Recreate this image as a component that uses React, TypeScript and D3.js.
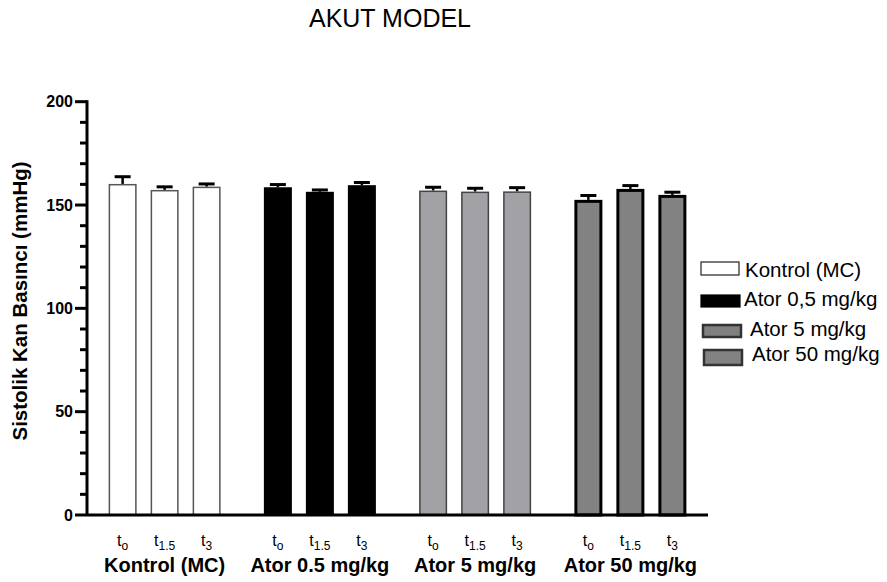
import React from "react";
import * as d3 from "d3";

const groups = ["Kontrol (MC)", "Ator 0.5 mg/kg", "Ator 5 mg/kg", "Ator 50 mg/kg"];
const legendLabels = ["Kontrol (MC)", "Ator 0,5 mg/kg", "Ator 5 mg/kg", "Ator 50 mg/kg"];
const times = ["o", "1.5", "3"];
const means = [
  [160.2, 157.3, 158.9],
  [158.6, 156.4, 159.6],
  [157.0, 156.5, 156.6],
  [152.5, 157.8, 154.9],
];
const errors = [
  [3.5, 1.5, 1.3],
  [1.3, 0.9, 1.3],
  [1.6, 1.6, 1.8],
  [2.1, 1.6, 1.3],
];
const yTicks = [0, 50, 100, 150, 200];

const styles = [
  { fill: "#ffffff", stroke: "#555555", sw: 1.5 },
  { fill: "#000000", stroke: "#000000", sw: 1.5 },
  { fill: "#a2a1a6", stroke: "#444444", sw: 1.5 },
  { fill: "url(#stip)", stroke: "#000000", sw: 3 },
];
const legendStyles = [
  { fill: "#ffffff", stroke: "#222222", sw: 1.2 },
  { fill: "#000000", stroke: "#000000", sw: 1.2 },
  { fill: "#808080", stroke: "#333333", sw: 2.5 },
  { fill: "url(#stip)", stroke: "#333333", sw: 2.5 },
];

export default function App() {
  const W = 887, H = 582;
  const y = d3.scaleLinear().domain([0, 200]).range([515, 101.7]);
  const x0 = d3.scaleBand<string>().domain(groups).range([87, 708]).padding(0);
  const x1 = d3.scaleBand<string>().domain(times).range([-63, 63]).padding(0);
  const barW = x1.bandwidth() * (2 / 3);
  const minor = d3.range(0, 201, 10);
  const font = "'Liberation Sans', Arial, sans-serif";

  const rows = [
    { rx: 701, ry: 262, rw: 38, rh: 13, tx: 745, ty: 277 },
    { rx: 701, ry: 295, rw: 39, rh: 12, tx: 744, ty: 306 },
    { rx: 703, ry: 325, rw: 38, rh: 12, tx: 750, ty: 336 },
    { rx: 704, ry: 350, rw: 38, rh: 15, tx: 752, ty: 361 },
  ];

  return (
    <svg width={W} height={H} style={{ position: "absolute", left: 0, top: 0 }} fontFamily={font}>
      <defs>
        <pattern id="stip" width="2" height="2" patternUnits="userSpaceOnUse">
          <rect width="2" height="2" fill="#848484" />
          <rect width="1" height="1" fill="#7c7c7c" />
        </pattern>
      </defs>
      <rect width={W} height={H} fill="#fff" />
      <text x={390} y={27} textAnchor="middle" fontSize={25}>AKUT MODEL</text>

      {groups.map((g, gi) => {
        const cx = (x0(g) as number) + x0.bandwidth() / 2;
        const st = styles[gi];
        return (
          <g key={g}>
            {times.map((t, ti) => {
              const bx = cx + (x1(t) as number) + x1.bandwidth() / 2;
              const top = y(means[gi][ti]);
              const ey = y(means[gi][ti] + errors[gi][ti]);
              const inset = st.sw / 2;
              return (
                <g key={t}>
                  <line x1={bx} x2={bx} y1={top} y2={ey} stroke="#000" strokeWidth={2.5} />
                  <line x1={bx - 8} x2={bx + 8} y1={ey} y2={ey} stroke="#000" strokeWidth={3} />
                  <rect x={bx - barW / 2 + inset} y={top + inset} width={barW - st.sw} height={y(0) - top - inset}
                    fill={st.fill} stroke={st.stroke} strokeWidth={st.sw} />
                  <text x={bx} y={546} textAnchor="middle" fontSize={16}>
                    t<tspan fontSize={12} dy={4}>{t}</tspan>
                  </text>
                </g>
              );
            })}
            <text x={cx} y={572} textAnchor="middle" fontSize={20} fontWeight="bold">{g}</text>
          </g>
        );
      })}

      {/* axes */}
      <line x1={87} x2={87} y1={y(200) - 1.5} y2={y(0)} stroke="#000" strokeWidth={3} />
      <line x1={87} x2={708} y1={y(0)} y2={y(0)} stroke="#000" strokeWidth={3} />
      {minor.map((v) => (
        <line key={v} x1={yTicks.includes(v) ? 75 : 80} x2={87} y1={y(v)} y2={y(v)} stroke="#000" strokeWidth={3} />
      ))}
      {yTicks.map((v) => (
        <text key={v} x={73} y={y(v) + 5.5} textAnchor="end" fontSize={16} fontWeight="bold">{v}</text>
      ))}
      <text transform={`translate(27,301) rotate(-90)`} textAnchor="middle" fontSize={20.5} fontWeight="bold">
        Sistolik Kan Basıncı (mmHg)
      </text>

      {/* legend */}
      {legendLabels.map((l, i) => {
        const r = rows[i];
        const ls = legendStyles[i];
        return (
          <g key={l}>
            <rect x={r.rx} y={r.ry} width={r.rw} height={r.rh} fill={ls.fill} stroke={ls.stroke} strokeWidth={ls.sw} />
            <text x={r.tx} y={r.ty} fontSize={20.5}>{l}</text>
          </g>
        );
      })}
    </svg>
  );
}
